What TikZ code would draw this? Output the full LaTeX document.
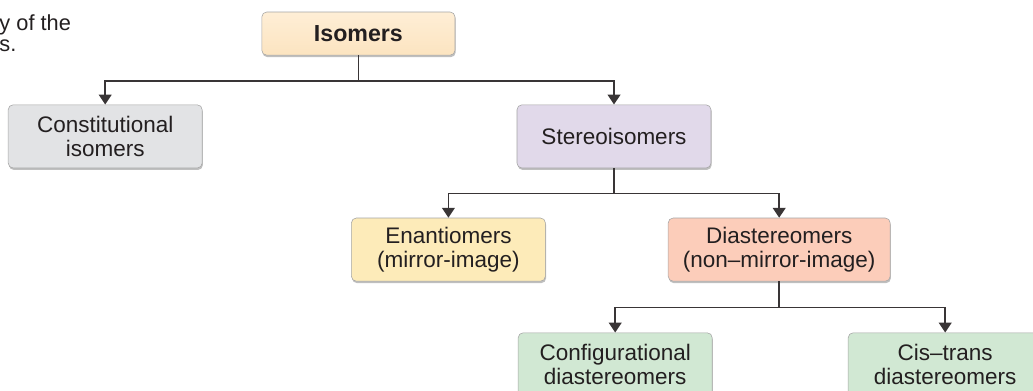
\documentclass[tikz,border=0pt]{standalone}
\usepackage{fontspec}
\setmainfont{Liberation Sans}
\usepackage{xcolor}
\usepackage{tikz}
\usetikzlibrary{arrows.meta, shadows}
\definecolor{peach}{RGB}{252,228,192}
\definecolor{peachtop}{RGB}{254,238,214}
\definecolor{greybox}{RGB}{226,227,229}
\definecolor{lilac}{RGB}{225,217,234}
\definecolor{cream}{RGB}{253,235,185}
\definecolor{salmon}{RGB}{252,205,186}
\definecolor{mint}{RGB}{209,232,211}
\definecolor{ink}{RGB}{35,31,32}
\definecolor{rim}{RGB}{165,165,165}
\tikzset{
    topbox/.style={rectangle, rounded corners=3.5pt, draw=rim, line width=0.4pt,
                   top color=peachtop, bottom color=peach, minimum width=4.83cm,
                   minimum height=1.08cm, font=\fontsize{16.5}{17}\selectfont\bfseries,
                   text=ink, drop shadow={shadow xshift=0.5pt, shadow yshift=-1.4pt, fill=black!50}},
    gbox/.style={rectangle, rounded corners=3.5pt, draw=rim, line width=0.4pt,
                 fill=greybox, minimum width=4.85cm, minimum height=1.58cm, align=center,
                 font=\fontsize{16}{17}\selectfont, text=ink,
                 drop shadow={shadow xshift=0.5pt, shadow yshift=-1.4pt, fill=black!50}},
    lbox/.style={gbox, fill=lilac},
    ybox/.style={gbox, fill=cream},
    sbox/.style={gbox, fill=salmon, minimum width=5.55cm},
    mbox/.style={gbox, fill=mint},
    arr/.style={-{Triangle[width=9pt,length=7pt]}, line width=1.2pt, draw=ink!90}
}

\begin{document}
\begin{tikzpicture}
\path[use as bounding box, clip] (0,0) rectangle (25.825,-9.75);

% ── Cut caption ───────────────────────────────────────────────────────
\node[anchor=north west, align=left, inner sep=0pt, text=ink,
      font=\fontsize{15.5}{15}\selectfont] at (-0.02,-0.36) (capt) {y of the\\s.};

% ── Top level ─────────────────────────────────────────────────────────
\node[topbox] at (8.96,-0.84) (iso) {Isomers};

% ── Second level ──────────────────────────────────────────────────────
\node[gbox] at (2.63,-3.41)  (con)    {Constitutional\\isomers};
\node[lbox] at (15.35,-3.41) (stereo) {Stereoisomers};

% ── Third level ───────────────────────────────────────────────────────
\node[ybox] at (11.21,-6.24) (enan) {Enantiomers\\(mirror-image)};
\node[sbox] at (19.48,-6.24) (dia)  {Diastereomers\\(non--mirror-image)};

% ── Fourth level ──────────────────────────────────────────────────────
\node[mbox] at (15.38,-9.11) (conf) {Configurational\\diastereomers};
\node[mbox] at (23.63,-9.11) (cis)  {Cis--trans\\diastereomers};

% ── Arrows ────────────────────────────────────────────────────────────
\draw[arr] (iso.south) -- ++(0,-0.63) -| (con.north);
\draw[arr] (iso.south) -- ++(0,-0.63) -| (stereo.north);

\draw[arr] (stereo.south) -- ++(0,-0.63) -| (enan.north);
\draw[arr] (stereo.south) -- ++(0,-0.63) -| (dia.north);

\draw[arr] (dia.south) -- ++(0,-0.65) -| (conf.north);
\draw[arr] (dia.south) -- ++(0,-0.65) -| (cis.north);
\end{tikzpicture}
\end{document}
